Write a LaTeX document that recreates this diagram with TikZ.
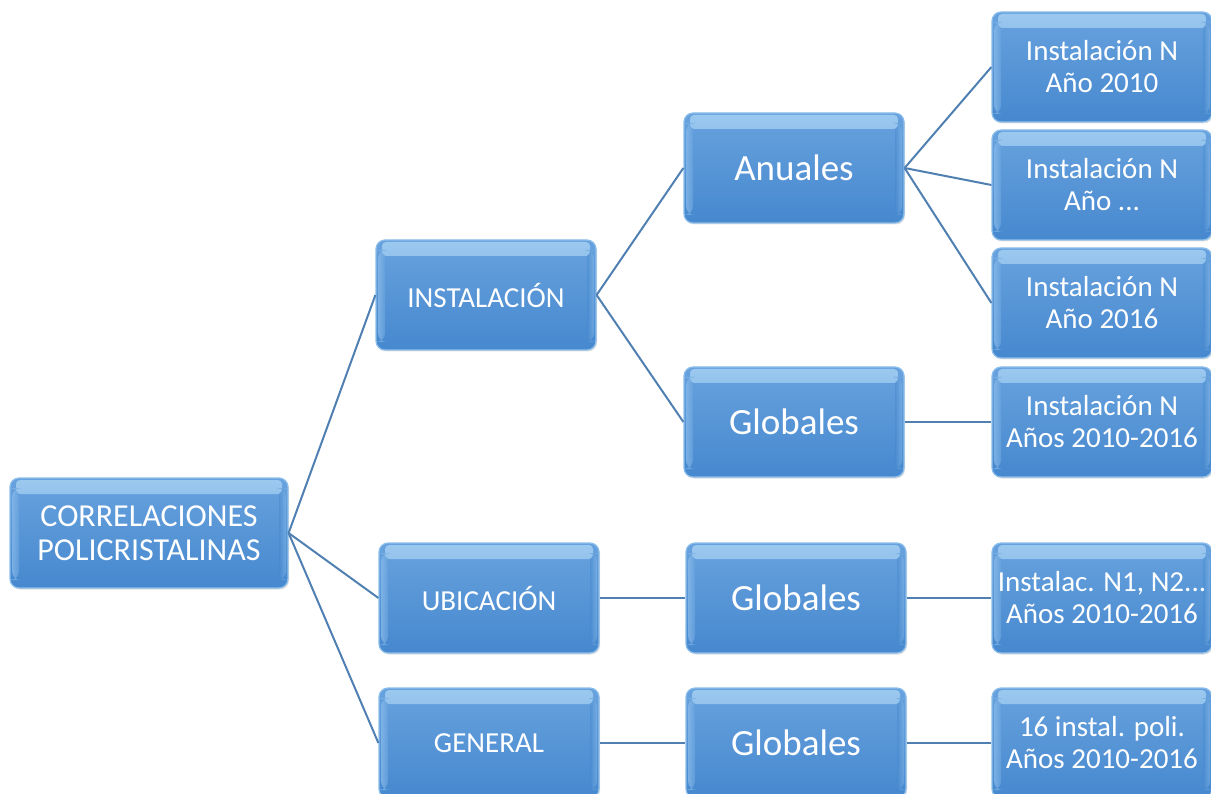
\documentclass[tikz,border=0pt]{standalone}
\usepackage{fontspec}
\setmainfont{Carlito}
\usetikzlibrary{shadows}
\definecolor{boxtop}{RGB}{104,162,222}
\definecolor{boxbot}{RGB}{70,136,206}
\definecolor{boxhi}{RGB}{165,208,243}
\definecolor{boxedge}{RGB}{140,190,235}
\definecolor{linkc}{RGB}{80,128,178}
\tikzset{
  box/.style={rounded corners=9pt, minimum width=220pt, minimum height=110pt,
    top color=boxtop, bottom color=boxbot, draw=boxedge, line width=1.2pt,
    text=white, align=center, inner sep=0pt,
    drop shadow={shadow xshift=1pt, shadow yshift=-1.5pt, opacity=0.25},
    path picture={
      \shade[top color=boxhi, bottom color=boxtop, rounded corners=4pt, opacity=0.85]
        ([xshift=6pt,yshift=-2pt]path picture bounding box.north west) rectangle
        ([xshift=-6pt,yshift=-16pt]path picture bounding box.north east);
      \shade[left color=boxhi!60!boxtop, right color=boxtop, opacity=0.7]
        ([xshift=2pt,yshift=-10pt]path picture bounding box.north west) rectangle
        ([xshift=9pt,yshift=8pt]path picture bounding box.south west);
      \shade[right color=boxhi!60!boxtop, left color=boxbot, opacity=0.5]
        ([xshift=-9pt,yshift=-10pt]path picture bounding box.north east) rectangle
        ([xshift=-2pt,yshift=8pt]path picture bounding box.south east);
    }},
  rootbox/.style={box, minimum width=278pt, font=\fontsize{32}{34}\selectfont},
  midbox/.style={box, font=\fontsize{29}{32}\selectfont},
  bigbox/.style={box, font=\fontsize{37}{42}\selectfont},
  leafbox/.style={box, font=\fontsize{29}{32}\selectfont},
  link/.style={draw=linkc, line width=2pt}
}
\begin{document}
\begin{tikzpicture}[x=1pt,y=-1pt]
\useasboundingbox (0,0) rectangle (1211,794);
\node[rootbox] (root) at (149,533) {CORRELACIONES\\POLICRISTALINAS};
\node[midbox] (inst) at (486,295) {INSTALACIÓN};
\node[midbox] (ubic) at (489,598) {UBICACIÓN};
\node[midbox] (gen) at (489,743) {GENERAL};
\node[bigbox] (anu) at (794,168) {Anuales};
\node[bigbox] (glo1) at (794,422) {Globales};
\node[bigbox] (glo2) at (796,598) {Globales};
\node[bigbox] (glo3) at (796,743) {Globales};
\node[leafbox] (l1) at (1102,67) {Instalación N\\Año 2010};
\node[leafbox] (l2) at (1102,185) {Instalación N\\Año ...};
\node[leafbox] (l3) at (1102,303) {Instalación N\\Año 2016};
\node[leafbox] (l4) at (1102,422) {Instalación N\\Años 2010-2016};
\node[leafbox] (l5) at (1102,598) {Instalac. N1, N2...\\Años 2010-2016};
\node[leafbox] (l6) at (1102,743) {16 instal. poli.\\Años 2010-2016};
\draw[link] (root.east) -- (inst.west);
\draw[link] (root.east) -- (ubic.west);
\draw[link] (root.east) -- (gen.west);
\draw[link] (inst.east) -- (anu.west);
\draw[link] (inst.east) -- (glo1.west);
\draw[link] (anu.east) -- (l1.west);
\draw[link] (anu.east) -- (l2.west);
\draw[link] (anu.east) -- (l3.west);
\draw[link] (glo1.east) -- (l4.west);
\draw[link] (ubic.east) -- (glo2.west);
\draw[link] (glo2.east) -- (l5.west);
\draw[link] (gen.east) -- (glo3.west);
\draw[link] (glo3.east) -- (l6.west);
\end{tikzpicture}
\end{document}
